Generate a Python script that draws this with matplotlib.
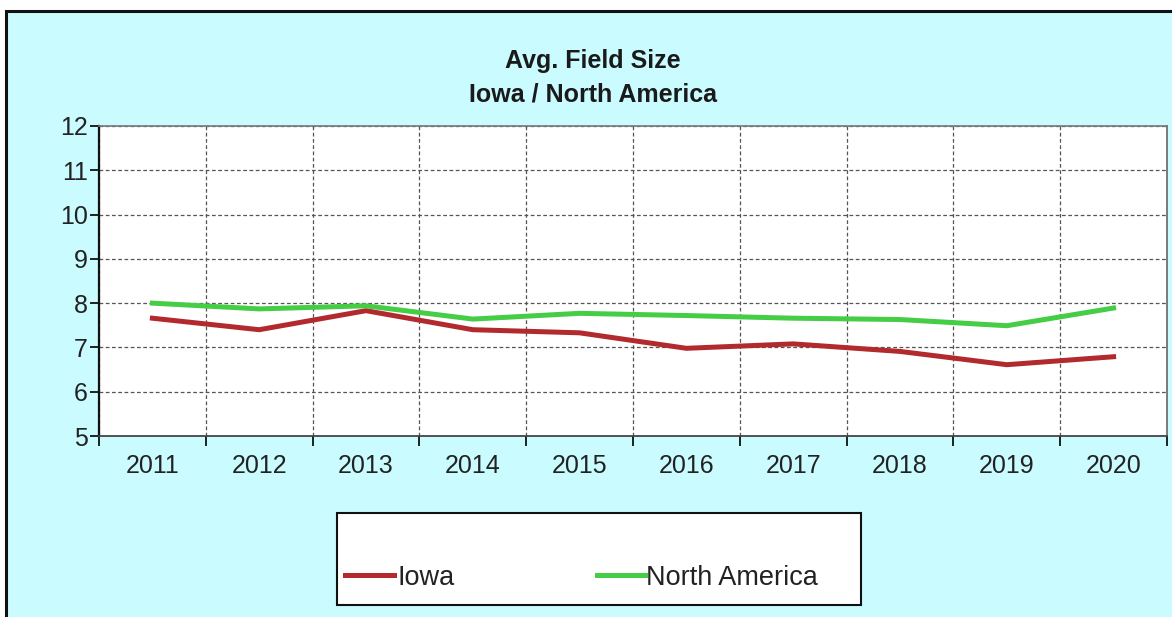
import matplotlib
matplotlib.use("Agg")
import matplotlib.pyplot as plt
from matplotlib.patches import Rectangle
from matplotlib.lines import Line2D

years = ["2011", "2012", "2013", "2014", "2015", "2016", "2017", "2018", "2019", "2020"]
iowa = [7.66, 7.40, 7.83, 7.40, 7.33, 6.98, 7.08, 6.91, 6.61, 6.79]
north_america = [8.00, 7.87, 7.94, 7.64, 7.77, 7.72, 7.66, 7.63, 7.49, 7.89]
y_ticks = [5, 6, 7, 8, 9, 10, 11, 12]

plt.rcParams["font.family"] = ["Liberation Sans", "DejaVu Sans"]

W, H = 1172, 617
fig = plt.figure(figsize=(W / 100, H / 100), dpi=100)
fig.patch.set_facecolor("white")

# cyan panel with black frame on top/left
fig.patches.append(Rectangle((6 / W, -0.02), 1.05, 1 - 11 / H + 0.02,
                             transform=fig.transFigure, facecolor="#C9FBFF",
                             edgecolor="#111111", linewidth=2.2, zorder=-5))

ax = fig.add_axes([99 / W, 1 - 436 / H, (1167 - 99) / W, (436 - 126) / H])
ax.set_facecolor("white")

x = list(range(len(years)))
ax.plot(x, iowa, color="#B22A2E", linewidth=3.6, solid_joinstyle="miter", zorder=3)
ax.plot(x, north_america, color="#45CD45", linewidth=3.6, solid_joinstyle="miter", zorder=3)

ax.set_xlim(-0.5, len(years) - 0.5)
ax.set_ylim(min(y_ticks), max(y_ticks))
ax.set_yticks(y_ticks)
ax.set_yticklabels([str(v) for v in y_ticks])

ax.set_xticks([i - 0.5 for i in range(len(years) + 1)])
ax.set_xticklabels([])
ax.set_xticks(x, minor=True)
ax.set_xticklabels(years, minor=True)

ax.tick_params(axis="x", which="major", direction="out", length=7, width=1.3, color="#111111")
ax.tick_params(axis="x", which="minor", length=0, pad=13, labelsize=18, labelcolor="#222222")
ax.tick_params(axis="y", direction="out", length=6.5, width=1.3, color="#111111",
               labelsize=18, labelcolor="#222222", pad=1.5)

ax.grid(True, which="major", linestyle=(0, (3, 2)), color="#555555", linewidth=0.9)
ax.set_axisbelow(True)

ax.spines["left"].set_color("#111111")
ax.spines["left"].set_linewidth(1.6)
ax.spines["bottom"].set_color("#444444")
ax.spines["bottom"].set_linewidth(1.3)
ax.spines["top"].set_color("#777777")
ax.spines["top"].set_linewidth(1.2)
ax.spines["right"].set_color("#666666")
ax.spines["right"].set_linewidth(1.2)

fig.text(0.506, 1 - 61 / H, "Avg. Field Size", ha="center", va="center",
         fontsize=18, fontweight="bold", color="#1a1a1a")
fig.text(0.506, 1 - 94 / H, "Iowa / North America", ha="center", va="center",
         fontsize=18, fontweight="bold", color="#1a1a1a")

# legend box
fig.patches.append(Rectangle((337 / W, 1 - 605 / H), (861 - 337) / W, (605 - 513) / H,
                             transform=fig.transFigure, facecolor="white",
                             edgecolor="#111111", linewidth=1.5, zorder=5))
ly = 1 - 575 / H
fig.add_artist(Line2D([345 / W, 394 / W], [ly, ly], color="#B22A2E", linewidth=3.6, zorder=6))
fig.text(398 / W, 1 - 578 / H, "Iowa", ha="left", va="center", fontsize=19.5,
         color="#222222", zorder=6)
fig.add_artist(Line2D([597 / W, 645 / W], [ly, ly], color="#45CD45", linewidth=3.6, zorder=6))
fig.text(646 / W, 1 - 578 / H, "North America", ha="left", va="center", fontsize=19.5,
         color="#222222", zorder=6)

fig.savefig("out.png", dpi=100, facecolor=fig.get_facecolor())
